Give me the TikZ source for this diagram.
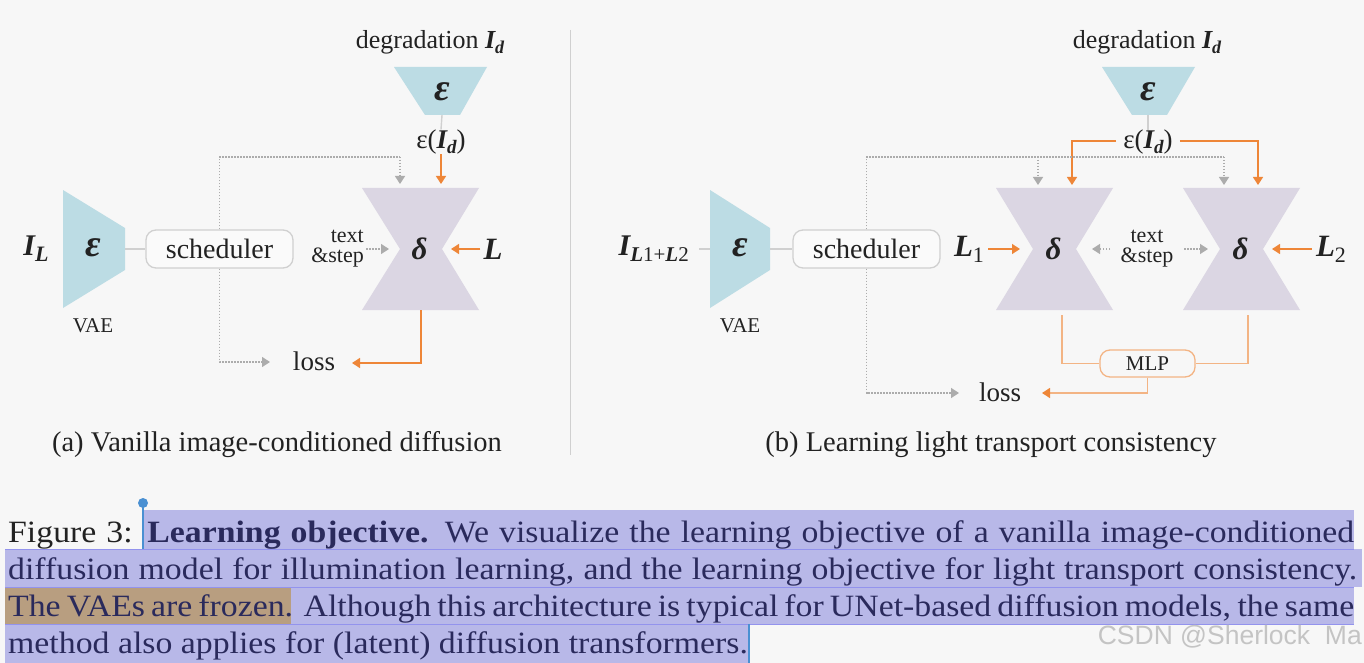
\documentclass[tikz,border=0pt]{standalone}
\usepackage{fontspec}
\setmainfont{Liberation Serif}
\newfontfamily\capfont[FakeStretch=1.09]{Liberation Serif}
\newfontfamily\wmfont{Liberation Sans}
\usetikzlibrary{arrows.meta}
\definecolor{bg}{RGB}{247,247,247}
\definecolor{enc}{RGB}{188,220,228}
\definecolor{unet}{RGB}{219,214,227}
\definecolor{org}{RGB}{238,134,56}
\definecolor{orgl}{RGB}{243,180,132}
\definecolor{dgrey}{RGB}{172,172,172}
\definecolor{lgrey}{RGB}{208,208,208}
\definecolor{ink}{RGB}{34,34,34}
\definecolor{hl}{RGB}{184,184,232}
\definecolor{hltan}{RGB}{184,158,128}
\definecolor{navy}{RGB}{42,42,92}
\definecolor{cursorc}{RGB}{74,144,210}
\definecolor{wm}{RGB}{196,196,196}
\newcommand\fs[1]{\fontsize{#1}{#1}\selectfont}
\newcommand\bi[1]{{\bfseries\itshape #1}}
\newcommand\sbx[2]{\raisebox{-0.2em}{\fontsize{#1}{#1}\selectfont #2}}
\tikzset{
  txt/.style={inner sep=0pt, text=ink, font=\fs{26}},
  encshape/.style={fill=enc, draw=none},
  unetshape/.style={fill=unet, draw=none},
  plainline/.style={draw=lgrey, line width=1.4pt},
  orgarrow/.style={draw=org, line width=1.3pt, -{Triangle[length=8pt,width=10pt]}},
  orgline/.style={draw=orgl, line width=1.3pt},
  orglarrow/.style={draw=orgl, line width=1.3pt, -{Triangle[length=8pt,width=10pt,color=org]}},
  greyline/.style={draw=dgrey, line width=1.2pt, dash pattern=on 1.5pt off 1.5pt},
  greyarrow/.style={greyline, -{Triangle[length=8pt,width=10pt,color=dgrey]}},
  schedbox/.style={draw=lgrey, line width=1.3pt, fill=bg!60!white, rounded corners=10pt, minimum width=147pt, minimum height=38pt, inner sep=0pt, text=ink, font=\fs{28}},
  mlpbox/.style={draw=orgl, line width=1.3pt, fill=bg, rounded corners=10pt, minimum width=95pt, minimum height=27pt, inner sep=0pt, text=ink, font=\fs{21}},
  caplinebox/.style={inner sep=0pt, anchor=base west, font=\capfont\fs{31}},
  tsnode/.style={inner sep=0pt, text=ink, font=\fontsize{22}{20}\selectfont},
}
\begin{document}
\begin{tikzpicture}[x=1pt,y=-1pt]
\useasboundingbox (0,0) rectangle (1364,663);
\fill[bg] (0,0) rectangle (1364,663);

% separator
\draw[draw=lgrey, line width=1pt] (570,30) -- (570,455);

%================ LEFT PANEL ================
\node[txt] (degL) at (430,42) {degradation \bi{I}\sbx{18}{\bi{d}}};
\fill[encshape] (394,67) -- (487,67) -- (460,115) -- (425,115) -- cycle;
\coordinate (encLb) at (442,115);
\node[txt, font=\fs{38}] (encL) at (442,92) {\bi{ε}};
\node[txt, font=\fs{27}] (epsL) at (441,142) {ε(\bi{I}\sbx{19}{\bi{d}})};
\draw[plainline] (encLb) -- (epsL.north);

% unet left
\fill[unetshape] (362,188) -- (479,188) -- (442,249) -- (479,310) -- (362,310) -- (400,249) -- cycle;
\node[txt, font=\fs{31}] (uL) at (419.5,249) {\bi{δ}};
\coordinate (uLtop) at (441,184);
\coordinate (uLg) at (400,184);
\coordinate (uLbot) at (421,310);

\draw[orgarrow] (epsL.south) -- (uLtop);

% VAE left
\fill[encshape] (63,190) -- (125,228) -- (125,270) -- (63,308) -- cycle;
\node[txt, font=\fs{38}] (vaeL) at (93,248) {\bi{ε}};
\coordinate (vaeLr) at (125,249);
\node[txt, font=\fs{21}] (vaeLlab) at (93,326) {VAE};
\node[txt, font=\fs{30}] (IL) at (36,249) {\bi{I}\sbx{22}{\bi{L}}};

\node[schedbox] (schedL) at (219.5,249) {scheduler};
\draw[plainline] (vaeLr) -- (schedL.west);

\coordinate (gLturn) at (400,157);
\draw[greyline] (schedL.north) |- (gLturn);
\draw[greyarrow] (gLturn) -- (uLg);

\node[tsnode, align=right, anchor=east] (tsL) at (364,249) {text\\\&step};
\coordinate (tsLa) at (366,249);
\coordinate (tsLb) at (389,249);
\draw[greyarrow] (tsLa) -- (tsLb);

\node[txt, font=\fs{31}] (LL) at (493,249) {\bi{L}};
\coordinate (LLa) at (451,249);
\draw[orgarrow] (LL.west) ++(-3,0) -- (LLa);

\node[txt, font=\fs{27}] (lossL) at (314,361) {loss};
\coordinate (lossLo) at (352,363);
\coordinate (lossLg) at (270,362);
\draw[orgarrow] (uLbot) |- (lossLo);
\draw[greyarrow] (schedL.south) |- (lossLg);

\node[txt, font=\fs{28.5}] (capA) at (277,445) {(a) Vanilla image-conditioned diffusion};

%================ RIGHT PANEL ================
\node[txt] (degR) at (1147,42) {degradation \bi{I}\sbx{18}{\bi{d}}};
\fill[encshape] (1102,67) -- (1195,67) -- (1167,115) -- (1132,115) -- cycle;
\coordinate (encRb) at (1148,115);
\node[txt, font=\fs{38}] (encR) at (1148,92) {\bi{ε}};
\node[txt, font=\fs{27}] (epsR) at (1148,142) {ε(\bi{I}\sbx{19}{\bi{d}})};
\draw[plainline] (encRb) -- (epsR.north);

% unets right
\fill[unetshape] (996,188) -- (1113,188) -- (1076,249) -- (1113,310) -- (996,310) -- (1033,249) -- cycle;
\node[txt, font=\fs{31}] (u1) at (1053.5,249) {\bi{δ}};
\fill[unetshape] (1183,188) -- (1300,188) -- (1263,249) -- (1300,310) -- (1183,310) -- (1220,249) -- cycle;
\node[txt, font=\fs{31}] (u2) at (1240.5,249) {\bi{δ}};

\coordinate (u1o) at (1072,185);
\coordinate (u2o) at (1258,185);
\coordinate (u1g) at (1038,185);
\coordinate (u2g) at (1224,185);
\coordinate (gRturn) at (1224,157);
\coordinate (gRmid) at (1038,157);

\draw[orgarrow] ([xshift=-7pt,yshift=1pt]epsR.west) -| (u1o);
\draw[orgarrow] ([xshift=7pt,yshift=1pt]epsR.east) -| (u2o);

% VAE right
\fill[encshape] (710,190) -- (770,228) -- (770,270) -- (710,308) -- cycle;
\node[txt, font=\fs{38}] (vaeR) at (740,248) {\bi{ε}};
\coordinate (vaeRl) at (710,249);
\coordinate (vaeRr) at (770,249);
\node[txt, font=\fs{21}] (vaeRlab) at (740,326) {VAE};
\node[txt, font=\fs{30}, anchor=east] (ILR) at (689,249) {\bi{I}\sbx{21}{\bi{L}1+\bi{L}2}};
\draw[plainline] ([xshift=10pt]ILR.east) -- (vaeRl);

\node[schedbox] (schedR) at (866.5,249) {scheduler};
\draw[plainline] (vaeRr) -- (schedR.west);

\draw[greyline] (schedR.north) |- (gRturn);
\draw[greyarrow] (gRturn) -- (u2g);
\draw[greyarrow] (gRmid) -- (u1g);

\node[tsnode, align=center] (tsR) at (1147,249) {text\\\&step};
\coordinate (tsR1a) at (1110,249);
\coordinate (tsR1b) at (1092,249);
\coordinate (tsR2a) at (1184,249);
\coordinate (tsR2b) at (1208,249);
\draw[greyarrow] (tsR1a) -- (tsR1b);
\draw[greyarrow] (tsR2a) -- (tsR2b);

\node[txt, font=\fs{31}] (L1) at (969,249) {\bi{L}\sbx{22}{1}};
\coordinate (L1a) at (1020,249);
\draw[orgarrow] ([xshift=4pt]L1.east) -- (L1a);
\node[txt, font=\fs{31}] (L2) at (1331,249) {\bi{L}\sbx{22}{2}};
\coordinate (L2a) at (1272,249);
\draw[orgarrow] ([xshift=-4pt]L2.west) -- (L2a);

\node[mlpbox] (mlp) at (1147.5,363.5) {MLP};
\coordinate (u1b) at (1062,315);
\coordinate (u2b) at (1248,315);
\draw[orgline] (u1b) |- (mlp.west);
\draw[orgline] (u2b) |- (mlp.east);

\node[txt, font=\fs{27}] (lossR) at (1000,392) {loss};
\coordinate (lossRo) at (1042,393);
\coordinate (lossRg) at (959,393);
\draw[orglarrow] (mlp.south) |- (lossRo);
\draw[greyarrow] (schedR.south) |- (lossRg);

\node[txt, font=\fs{28.5}] (capB) at (991,445) {(b) Learning light transport consistency};

%================ CAPTION (selected text) ================
\fill[hl] (143,510) rectangle (1354,549);
\fill[hl] (5,549) rectangle (1362,587);
\fill[hltan] (5,587) rectangle (291,624);
\fill[hl] (291,587) rectangle (1354,624);
\fill[hl] (5,624) rectangle (749,663);
\draw[draw=hl!80!blue, line width=0.8pt] (5,549) -- (1354,549) (5,587) -- (1354,587) (5,624) -- (1354,624);

\node[caplinebox] (cap1) at (8,542) {\makebox[1346pt][s]{\color{ink}Figure 3: \color{navy}\textbf{Learning objective.} We visualize the learning objective of a vanilla image-conditioned}};
\node[caplinebox] (cap2) at (8,579) {\makebox[1349pt][s]{\color{navy}diffusion model for illumination learning, and the learning objective for light transport consistency.}};
\node[caplinebox] (cap3) at (8,616) {\makebox[1346pt][s]{\color{navy}The VAEs are frozen. Although this architecture is typical for UNet-based diffusion models, the same}};
\node[caplinebox] (cap4) at (8,653) {\color{navy}method also applies for (latent) diffusion transformers.};

% cursors
\draw[draw=cursorc, line width=1.6pt] (143,505) -- (143,549);
\fill[cursorc] (143,503) circle (5pt);
\draw[draw=cursorc, line width=1.6pt] (749,624) -- (749,663);

% watermark
\node[inner sep=0pt, anchor=east, text=wm, font=\wmfont\fs{26.5}] (wmk) at (1362,637) {CSDN @Sherlock\ \ Ma};
\end{tikzpicture}
\end{document}
